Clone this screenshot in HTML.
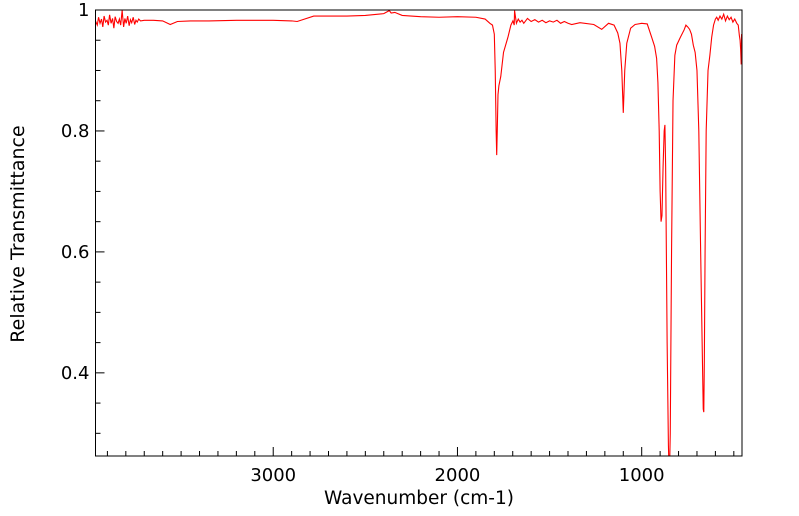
<!DOCTYPE html>
<html><head><meta charset="utf-8"><style>
body{margin:0;background:#fff;}
svg{display:block;font-family:"DejaVu Sans","Liberation Sans",sans-serif;}
</style></head><body>
<svg id="chart" width="799" height="516">
<g id="ticks"></g>
<g id="labels"></g>
<path id="series" fill="none" stroke="#ff0000" stroke-width="1.1" clip-path="url(#clip)"/>
<clipPath id="clip"><rect x="95.5" y="10" width="646.5" height="446"/></clipPath>
<rect x="95.5" y="10" width="646.5" height="446" fill="none" stroke="#000" stroke-width="1"/>
<text x="419" y="504" text-anchor="middle" font-size="18.5">Wavenumber (cm-1)</text>
<text transform="translate(24,234) rotate(-90)" text-anchor="middle" font-size="19">Relative Transmittance</text>
</svg>
<script>
const wavenumbers=[3965,3955,3948,3940,3932,3925,3918,3910,3902,3895,3888,3880,3872,3865,3858,3850,3842,3835,3828,3820,3812,3805,3798,3790,3782,3775,3768,3760,3752,3745,3738,3730,3720,3700,3650,3600,3559,3520,3450,3350,3200,3000,2900,2870,2780,2700,2600,2500,2400,2370,2360,2340,2300,2200,2100,2000,1900,1850,1824,1810,1800,1795,1790,1787,1784,1780,1775,1765,1750,1726,1710,1699,1692,1690,1680,1670,1660,1650,1640,1620,1600,1580,1560,1540,1520,1500,1480,1460,1440,1420,1400,1380,1335,1260,1217,1180,1150,1130,1118,1108,1100,1092,1081,1060,1036,1000,970,946,930,919,912,905,900,895,890,884,878,874,870,862,855,850,845,838,830,820,810,790,770,760,750,740,730,720,710,700,690,680,672,666,663,660,656,650,640,630,620,610,600,593,585,575,565,555,545,535,525,515,505,495,484,476,470,466,463,460,458,456,455];
const transmittance=[0.982,0.975,0.988,0.978,0.985,0.972,0.990,0.980,0.983,0.975,0.992,0.978,0.986,0.970,0.989,0.981,0.978,0.985,0.975,0.999,0.972,0.986,0.978,0.990,0.974,0.984,0.979,0.988,0.976,0.983,0.980,0.985,0.982,0.983,0.983,0.982,0.976,0.981,0.982,0.982,0.983,0.983,0.982,0.981,0.990,0.990,0.990,0.991,0.994,0.999,0.995,0.996,0.991,0.989,0.988,0.989,0.988,0.985,0.978,0.975,0.96,0.90,0.80,0.76,0.80,0.86,0.875,0.89,0.93,0.955,0.975,0.982,0.975,0.999,0.978,0.985,0.980,0.983,0.978,0.986,0.981,0.984,0.980,0.983,0.979,0.982,0.980,0.983,0.978,0.981,0.978,0.976,0.979,0.976,0.968,0.978,0.975,0.962,0.945,0.90,0.83,0.90,0.945,0.970,0.976,0.978,0.977,0.955,0.94,0.92,0.88,0.80,0.70,0.65,0.66,0.74,0.80,0.81,0.74,0.45,0.28,0.22,0.30,0.60,0.85,0.925,0.942,0.955,0.967,0.975,0.972,0.968,0.960,0.942,0.930,0.90,0.80,0.60,0.45,0.34,0.335,0.42,0.60,0.80,0.90,0.925,0.955,0.975,0.985,0.988,0.983,0.990,0.985,0.993,0.982,0.990,0.984,0.988,0.980,0.985,0.978,0.975,0.958,0.950,0.935,0.91,0.96,0.93,0.965,0.92,0.89];
const xTickValues=[3000,2000,1000];
const xTickLabels=["3000","2000","1000"];
const yTickValues=[0.4,0.6,0.8,1];
const yTickLabels=["0.4","0.6","0.8","1"];
const L=95.5,R=742,T=10,B=456;
const xScale=w=>641.7+(1000-w)*0.18424;
const yScale=v=>T+(1-v)*(B-T)/0.7375;
const ns="http://www.w3.org/2000/svg";
const ticks=document.getElementById('ticks'),labels=document.getElementById('labels');
function line(x1,y1,x2,y2,name){const l=document.createElementNS(ns,'line');l.setAttribute('x1',x1);l.setAttribute('y1',y1);l.setAttribute('x2',x2);l.setAttribute('y2',y2);l.setAttribute('stroke','#000');l.setAttribute('stroke-width','1');


ticks.appendChild(l);}
function text(x,y,s,anchor,name){const t=document.createElementNS(ns,'text');t.setAttribute('x',x);t.setAttribute('y',y);t.setAttribute('text-anchor',anchor);t.setAttribute('font-size','18');t.textContent=s;


labels.appendChild(t);}
for(let w=500;w<=3900;w+=100){const x=xScale(w);if(x<L||x>R)continue;const major=w%1000===0;line(x,B,x,B-(major?9:5),major?'x-major-tick':'x-minor-tick');}
xTickValues.forEach((v,i)=>text(xScale(v),B+25,xTickLabels[i],'middle','x-tick-label'));
for(let k=6;k<=20;k++){const v=k*0.05;const y=yScale(v);if(y<T-0.5||y>B)continue;const major=k%4===0;line(L,y,L+(major?9:5),y,major?'y-major-tick':'y-minor-tick');}
yTickValues.forEach((v,i)=>text(L-6,yScale(v)+6,yTickLabels[i],'end','y-tick-label'));
let d='';wavenumbers.forEach((w,i)=>{d+=(i?'L':'M')+xScale(w).toFixed(2)+','+yScale(transmittance[i]).toFixed(2);});
document.getElementById('series').setAttribute('d',d);
</script>
</body></html>
